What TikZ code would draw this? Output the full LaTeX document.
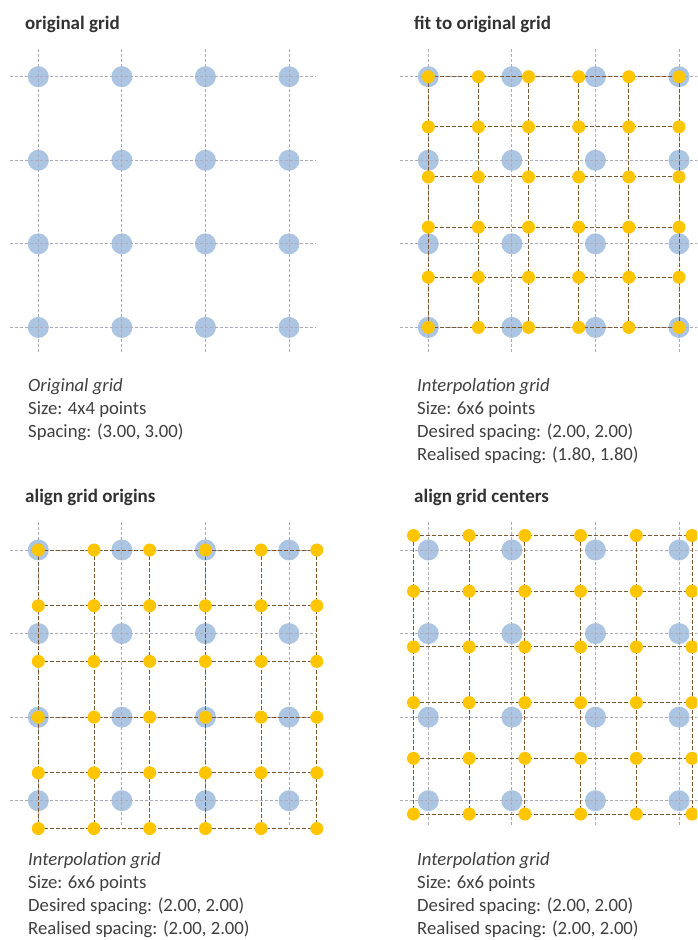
\documentclass[tikz,border=0pt]{standalone}
\usepackage{fontspec}
\setmainfont{Carlito}
\definecolor{gridgrey}{RGB}{172,172,188}
\definecolor{bluept}{RGB}{172,197,227}
\definecolor{yelpt}{RGB}{255,198,0}
\definecolor{brownln}{RGB}{125,88,50}
\definecolor{txtgrey}{RGB}{64,64,64}
\definecolor{ttlgrey}{RGB}{50,50,50}
\tikzset{
  greyline/.style={draw=gridgrey, line width=0.8pt, dash pattern=on 3pt off 2pt},
  brownline/.style={draw=brownln, line width=1pt, dash pattern=on 4pt off 2pt},
  bluedot/.style={fill=bluept},
  yeldot/.style={fill=yelpt},
  ttl/.style={anchor=base west, inner sep=0pt, text=ttlgrey, font=\fontsize{19}{23}\selectfont\bfseries},
  capt/.style={anchor=base west, inner sep=0pt, text=txtgrey, align=left, font=\fontsize{18.7}{23}\selectfont}
}
\newcommand{\dB}{83.57}
\newcommand{\origgrid}[2]{%
  \foreach \i in {0,...,3}{\foreach \j in {0,...,3}{
    \fill[bluedot] ({#1+\i*\dB},{#2+\j*\dB}) circle[radius=10.5pt];}}
  \foreach \i in {0,...,3}{
    \draw[greyline] ({#1+\i*\dB},{#2-28}) -- ({#1+\i*\dB},{#2+3*\dB+26});
    \draw[greyline] ({#1-28},{#2+\i*\dB}) -- ({#1+3*\dB+27},{#2+\i*\dB});}
}
\newcommand{\interpgrid}[3]{%
  \foreach \i in {0,...,5}{
    \draw[brownline] ({#1+\i*#3},{#2}) -- ({#1+\i*#3},{#2+5*#3});
    \draw[brownline] ({#1},{#2+\i*#3}) -- ({#1+5*#3},{#2+\i*#3});}
  \foreach \i in {0,...,5}{\foreach \j in {0,...,5}{
    \fill[yeldot] ({#1+\i*#3},{#2+\j*#3}) circle[radius=6.5pt];}}
}
\begin{document}
\begin{tikzpicture}[x=1pt,y=-1pt]
\useasboundingbox (0,0) rectangle (697,940);
\clip (0,0) rectangle (697,940);
\fill[white] (0,0) rectangle (697,940);
% top left
\origgrid{38.3}{76.7}
% top right
\origgrid{428.3}{76.7}
\interpgrid{428.3}{76.7}{50.14}
% bottom left
\origgrid{38.3}{550}
\interpgrid{38.3}{550}{55.71}
% bottom right
\origgrid{428.3}{550}
\interpgrid{413.5}{535.5}{55.71}
% titles
\node[ttl] (t1) at (25,29) {original grid};
\node[ttl] (t2) at (414,29) {fit to original grid};
\node[ttl] (t3) at (25,502) {align grid origins};
\node[ttl] (t4) at (414,502) {align grid centers};
% captions (anchor at baseline of last line)
\node[capt] (c1) at (28,437) {\textit{Original grid}\\Size: 4x4 points\\Spacing: (3.00, 3.00)};
\node[capt] (c2) at (417,460) {\textit{Interpolation grid}\\Size: 6x6 points\\Desired spacing: (2.00, 2.00)\\Realised spacing: (1.80, 1.80)};
\node[capt] (c3) at (28,934) {\textit{Interpolation grid}\\Size: 6x6 points\\Desired spacing: (2.00, 2.00)\\Realised spacing: (2.00, 2.00)};
\node[capt] (c4) at (417,934) {\textit{Interpolation grid}\\Size: 6x6 points\\Desired spacing: (2.00, 2.00)\\Realised spacing: (2.00, 2.00)};
\end{tikzpicture}
\end{document}
